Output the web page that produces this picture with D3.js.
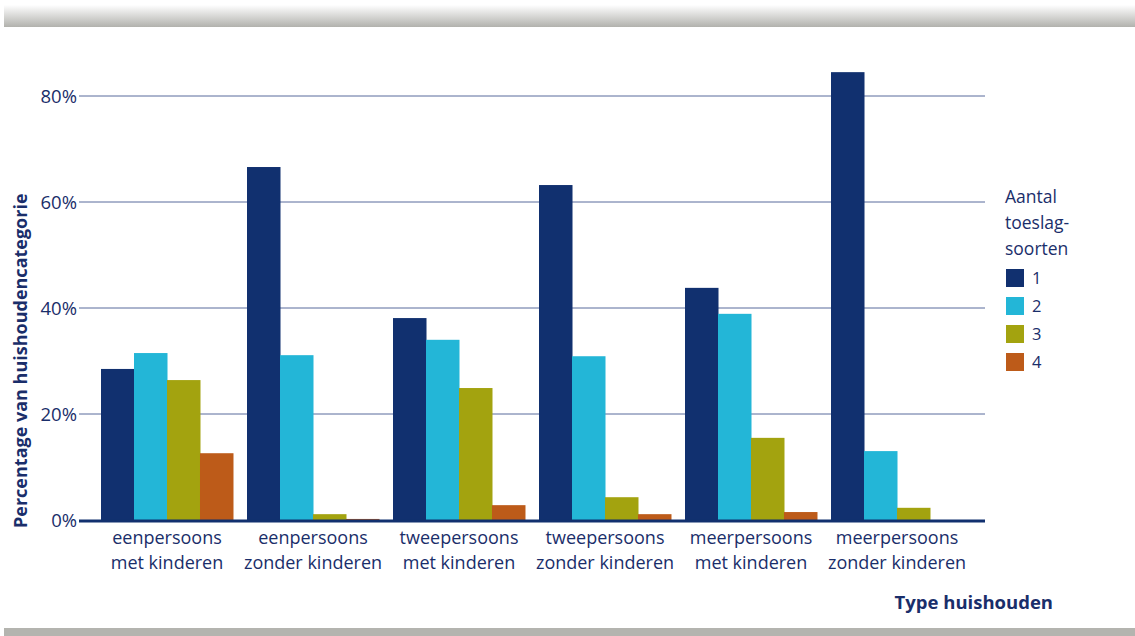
<!DOCTYPE html>
<html><head><meta charset="utf-8">
<script src="https://cdn.jsdelivr.net/npm/d3@7"></script>
<style>body{margin:0;background:#fff}svg{display:block}text{font-family:"Open Sans","Noto Sans",sans-serif;fill:#1a2e6a}</style>
</head><body><svg id="c" width="1135" height="636"></svg>
<script>
const categories = [["eenpersoons","met kinderen"],["eenpersoons","zonder kinderen"],["tweepersoons","met kinderen"],["tweepersoons","zonder kinderen"],["meerpersoons","met kinderen"],["meerpersoons","zonder kinderen"]];
const seriesNames = ["1","2","3","4"];
const s1 = [28.5, 66.6, 38.1, 63.2, 43.8, 84.5];
const s2 = [31.5, 31.1, 34.0, 30.9, 38.9, 13.0];
const s3 = [26.4, 1.1, 24.9, 4.3, 15.5, 2.3];
const s4 = [12.6, 0.2, 2.8, 1.1, 1.5, 0.0];
const yTicks = [0, 20, 40, 60, 80];
const colors = ["#11306f", "#23b6d7", "#a3a30f", "#bd5b19"];
const series = [s1, s2, s3, s4];

const svg = d3.select("#c");
const defs = svg.append("defs");
const g = defs.append("linearGradient").attr("id","tg").attr("x1",0).attr("y1",0).attr("x2",0).attr("y2",1);
g.append("stop").attr("offset","0%").attr("stop-color","#ffffff");
g.append("stop").attr("offset","100%").attr("stop-color","#b2b2ad");
svg.append("rect").attr("x",4).attr("y",5).attr("width",1131).attr("height",22).attr("fill","url(#tg)");
svg.append("rect").attr("x",4).attr("y",628).attr("width",1131).attr("height",8).attr("fill","#b4b4af");

const y = d3.scaleLinear().domain([0, 80]).range([520, 96]);
const x0 = d3.scaleBand().domain(d3.range(categories.length)).range([94, 970]).paddingInner(0.096).paddingOuter(0.048);
const x1 = d3.scaleBand().domain(d3.range(4)).range([0, x0.bandwidth()]);

// grid
svg.append("g").selectAll("line").data(yTicks.filter(d=>d>0)).join("line")
  .attr("x1",79).attr("x2",985).attr("y1",d=>y(d)).attr("y2",d=>y(d))
  .attr("stroke","#586a9c").attr("stroke-width",1);
svg.append("g").selectAll("text").data(yTicks).join("text")
  .attr("x",77).attr("y",d=>y(d)+6.5).attr("text-anchor","end").attr("font-size",18.5)
  .text(d=>d+"%");

// bars
const gr = svg.append("g").selectAll("g").data(categories).join("g")
  .attr("transform",(d,i)=>`translate(${x0(i)},0)`);
gr.selectAll("rect").data((d,i)=>series.map((s,k)=>({k,v:s[i]}))).join("rect")
  .attr("x",d=>x1(d.k)).attr("width",x1.bandwidth()+0.5)
  .attr("y",d=>y(d.v)).attr("height",d=>y(0)-y(d.v))
  .attr("fill",d=>colors[d.k]);

// baseline
svg.append("line").attr("x1",79).attr("x2",985).attr("y1",521).attr("y2",521)
  .attr("stroke","#11306f").attr("stroke-width",3);

// category labels
const cl = svg.append("g").selectAll("text").data(categories).join("text")
  .attr("text-anchor","middle").attr("font-size",18)
  .attr("transform",(d,i)=>`translate(${x0(i)+x0.bandwidth()/2},0)`);
cl.append("tspan").attr("x",0).attr("y",544).text(d=>d[0]);
cl.append("tspan").attr("x",0).attr("y",569).text(d=>d[1]);

// axis titles
svg.append("text").attr("transform","translate(27,528) rotate(-90)").attr("font-size",18).attr("font-weight","bold").text("Percentage van huishoudencategorie");
svg.append("text").attr("x",1053).attr("y",609).attr("text-anchor","end").attr("font-size",18.5).attr("font-weight","bold").text("Type huishouden");

// legend
const lt = svg.append("text").attr("font-size",17.5);
["Aantal","toeslag-","soorten"].forEach((t,i)=>lt.append("tspan").attr("x",1005).attr("y",203+i*26).text(t));
const lg = svg.append("g").selectAll("g").data(seriesNames).join("g")
  .attr("transform",(d,i)=>`translate(1006,${269+i*28})`);
lg.append("rect").attr("width",18).attr("height",18).attr("fill",(d,i)=>colors[i]);
lg.append("text").attr("x",26).attr("y",15).attr("font-size",16.5).text(d=>d);
</script></body></html>
